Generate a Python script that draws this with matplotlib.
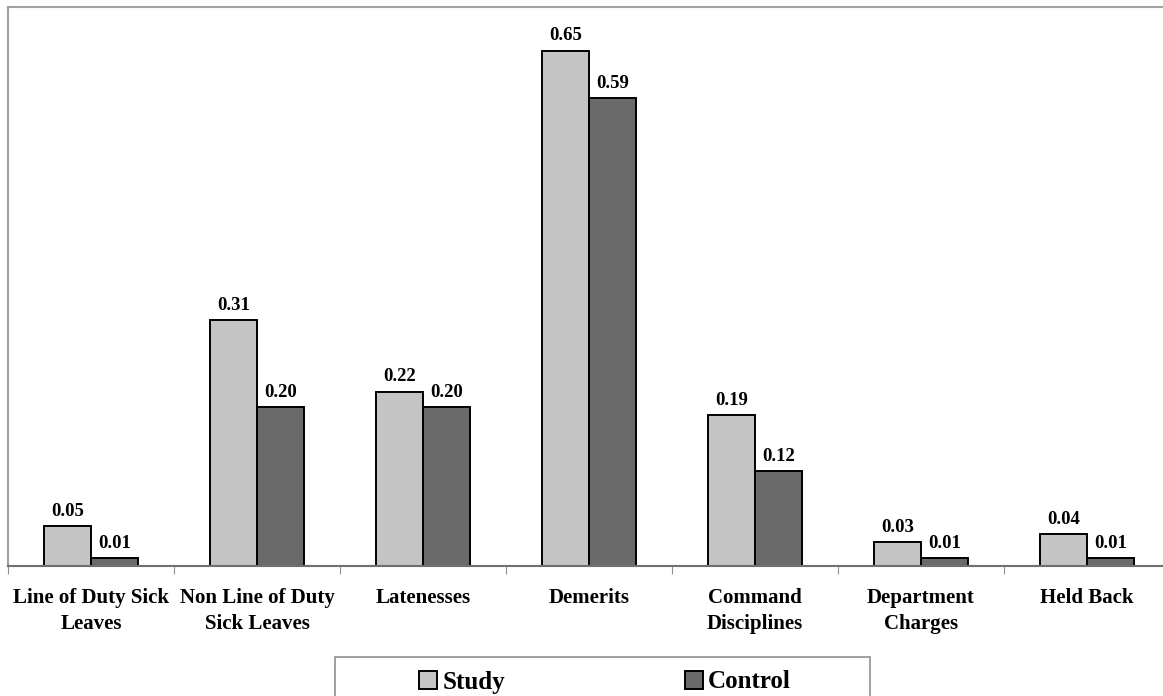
import matplotlib.pyplot as plt
import numpy as np
from matplotlib.patches import Rectangle

categories = ["Line of Duty Sick\nLeaves", "Non Line of Duty\nSick Leaves",
              "Latenesses", "Demerits", "Command\nDisciplines",
              "Department\nCharges", "Held Back"]
study = [0.05, 0.31, 0.22, 0.65, 0.19, 0.03, 0.04]
control = [0.01, 0.20, 0.20, 0.59, 0.12, 0.01, 0.01]
series_names = ["Study", "Control"]

plt.rcParams['font.family'] = ['Liberation Serif', 'DejaVu Serif']
plt.rcParams['font.weight'] = 'bold'

W, H = 1163, 696
fig = plt.figure(figsize=(W / 100, H / 100), dpi=100)
ax = fig.add_axes([8 / W, (H - 566) / H, (1170 - 8) / W, (566 - 7) / H])

x = np.arange(len(categories))
bw = 0.285
b1 = ax.bar(x - bw / 2, study, bw, color="#c4c4c4", edgecolor="black",
            linewidth=1.4, label=series_names[0])
b2 = ax.bar(x + bw / 2, control, bw, color="#6a6a6a", edgecolor="black",
            linewidth=1.4, label=series_names[1])

for bars, vals in ((b1, study), (b2, control)):
    for r, v in zip(bars, vals):
        ax.text(r.get_x() + r.get_width() / 2, v + 0.008, f"{v:.2f}",
                ha="center", va="bottom", fontsize=13.5, fontweight="bold")

ax.set_xlim(-0.5, len(categories) - 0.5)
ax.set_ylim(0, 0.705)
ax.set_yticks([])
ax.set_xticks(np.arange(len(categories) + 1) - 0.5)
ax.set_xticklabels([])
ax.tick_params(axis="x", direction="out", length=6, color="#909090")
for i, c in enumerate(categories):
    ax.text(i, -0.028, c, ha="center", va="top", fontsize=15,
            fontweight="bold", linespacing=1.4)

for s in ("left", "top", "bottom"):
    ax.spines[s].set_color("#a0a0a0")
    ax.spines[s].set_linewidth(1.5)
    ax.spines[s].set_linestyle((0, (1, 1)))
ax.spines["bottom"].set_color("#707070")
ax.spines["right"].set_visible(False)

# legend frame drawn separately, items placed inside
fig.patches.append(Rectangle((335 / W, -0.05), 535 / W, 0.05 + (H - 657) / H,
                             transform=fig.transFigure, facecolor="white",
                             edgecolor="#909090", linewidth=1.2))
leg = fig.legend(loc="center", bbox_to_anchor=(605 / W, (H - 682) / H),
                 ncol=2, frameon=False, prop={"weight": "bold", "size": 18},
                 handlelength=0.72, handleheight=0.72, handletextpad=0.2,
                 columnspacing=7.2)

fig.savefig("out.png", dpi=100)
